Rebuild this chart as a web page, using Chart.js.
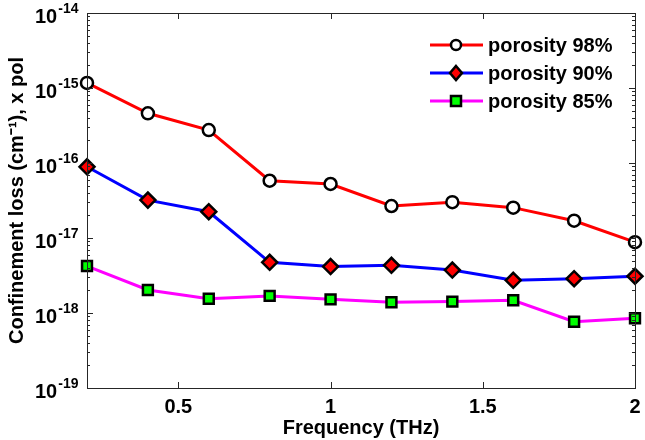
<!DOCTYPE html>
<html>
<head>
<meta charset="utf-8">
<script src="https://cdn.jsdelivr.net/npm/chart.js@4/dist/chart.umd.min.js"></script>
<style>
  html, body { margin: 0; padding: 0; background: #fff; }
  #wrap { width: 645px; height: 440px; }
</style>
</head>
<body>
<div id="wrap"><canvas id="c" width="645" height="440"></canvas></div>
<script>
// ---- data ----
const FREQ = [0.2, 0.4, 0.6, 0.8, 1.0, 1.2, 1.4, 1.6, 1.8, 2.0];
const POR98 = [1.17e-15, 4.6e-16, 2.75e-16, 5.8e-17, 5.25e-17, 2.67e-17, 3.0e-17, 2.54e-17, 1.7e-17, 8.8e-18];
const POR90 = [8.9e-17, 3.2e-17, 2.24e-17, 4.74e-18, 4.16e-18, 4.33e-18, 3.74e-18, 2.73e-18, 2.87e-18, 3.09e-18];
const POR85 = [4.23e-18, 2.03e-18, 1.55e-18, 1.69e-18, 1.52e-18, 1.39e-18, 1.42e-18, 1.48e-18, 7.66e-19, 8.5e-19];
const X_TICKS = [0.5, 1, 1.5, 2];
const Y_EXP = [-19, -18, -17, -16, -15, -14];
const LABELS = ['porosity 98%', 'porosity 90%', 'porosity 85%'];

const FONT = '"Liberation Sans", Arial, sans-serif';

const pts = (arr) => FREQ.map((f, i) => ({ x: f, y: arr[i] }));

// legend marker painter (same look as the plotted points)
function marker(ctx, kind, x, y) {
  ctx.save();
  ctx.lineWidth = 2.5;
  ctx.strokeStyle = '#000';
  ctx.beginPath();
  if (kind === 'circle') {
    ctx.fillStyle = '#fff';
    ctx.arc(x, y, 5, 0, Math.PI * 2);
  } else if (kind === 'diamond') {
    ctx.fillStyle = '#ff0000';
    ctx.moveTo(x, y - 7); ctx.lineTo(x + 6, y); ctx.lineTo(x, y + 7); ctx.lineTo(x - 6, y); ctx.closePath();
  } else {
    ctx.fillStyle = '#00ff00';
    ctx.rect(x - 5, y - 5, 10, 10);
  }
  ctx.fill(); ctx.stroke();
  ctx.restore();
}

const frame = {
  id: 'frame',
  afterDraw(chart) {
    const { ctx, chartArea: a, scales: { x, y } } = chart;
    ctx.save();
    ctx.strokeStyle = '#262626';
    ctx.lineWidth = 1;
    ctx.strokeRect(a.left + 0.5, a.top + 0.5, a.right - a.left, a.bottom - a.top);
    ctx.beginPath();
    // inward x ticks, bottom and top
    X_TICKS.forEach((v) => {
      const px = Math.round(x.getPixelForValue(v)) + 0.5;
      ctx.moveTo(px, a.bottom); ctx.lineTo(px, a.bottom - 6);
      ctx.moveTo(px, a.top); ctx.lineTo(px, a.top + 6);
    });
    // inward y ticks, major + minor, left and right
    for (let e = -19; e < -14; e++) {
      for (let m = 1; m < 10; m++) {
        const py = Math.round(y.getPixelForValue(m * Math.pow(10, e))) + 0.5;
        const len = m === 1 ? 6 : 3;
        ctx.moveTo(a.left, py); ctx.lineTo(a.left + len, py);
        ctx.moveTo(a.right, py); ctx.lineTo(a.right - len, py);
      }
    }
    ctx.stroke();

    // y tick labels 10^e
    ctx.fillStyle = '#000';
    ctx.textBaseline = 'middle';
    ctx.textAlign = 'left';
    Y_EXP.forEach((e) => {
      const py = y.getPixelForValue(Math.pow(10, e));
      ctx.font = 'bold 20px ' + FONT;
      ctx.fillText('10', 35, py + 4);
      const w = ctx.measureText('10').width;
      ctx.font = 'bold 14px ' + FONT;
      ctx.fillText('-' + String(-e), 35 + w + 1, py - 4);
    });

    // legend
    const kinds = ['circle', 'diamond', 'square'];
    const cols = ['#ff0000', '#0000ff', '#ff00ff'];
    LABELS.forEach((lab, i) => {
      const ly = 45 + i * 28;
      ctx.strokeStyle = cols[i];
      ctx.lineWidth = 3;
      ctx.beginPath(); ctx.moveTo(430, ly); ctx.lineTo(483, ly); ctx.stroke();
      marker(ctx, kinds[i], 456, ly);
      ctx.fillStyle = '#000';
      ctx.font = 'bold 20px ' + FONT;
      ctx.textAlign = 'left';
      ctx.fillText(lab, 488, ly + 1);
    });
    ctx.restore();
  }
};

const common = { borderWidth: 3, pointBorderWidth: 2.5, pointBorderColor: '#000', clip: false, tension: 0 };

new Chart(document.getElementById('c'), {
  type: 'line',
  data: {
    datasets: [
      Object.assign({ label: LABELS[0], data: pts(POR98), borderColor: '#ff0000',
        pointStyle: 'circle', pointRadius: 6, pointBackgroundColor: '#fff' }, common),
      Object.assign({ label: LABELS[1], data: pts(POR90), borderColor: '#0000ff',
        pointStyle: 'rectRot', pointRadius: 7.5, pointBackgroundColor: '#ff0000' }, common),
      Object.assign({ label: LABELS[2], data: pts(POR85), borderColor: '#ff00ff',
        pointStyle: 'rect', pointRadius: 7, pointBackgroundColor: '#00ff00' }, common)
    ]
  },
  options: {
    responsive: false,
    animation: false,
    events: [],
    layout: { padding: { top: 13, right: 10, left: 0, bottom: 0 } },
    plugins: { legend: { display: false }, tooltip: { enabled: false } },
    scales: {
      x: {
        type: 'linear', min: 0.2, max: 2,
        afterBuildTicks: (s) => { s.ticks = X_TICKS.map((v) => ({ value: v })); },
        afterFit: (s) => { s.height = 52; s.paddingLeft = 0; s.paddingRight = 0; },
        grid: { display: false, drawTicks: false },
        border: { display: false },
        ticks: { color: '#000', padding: 7, font: { family: FONT, size: 20, weight: 'bold' },
          callback: (v) => String(v) },
        title: { display: true, text: 'Frequency (THz)', color: '#000', padding: { top: 0, bottom: 0 },
          font: { family: FONT, size: 20, weight: 'bold' } }
      },
      y: {
        type: 'logarithmic', min: 1e-19, max: 1e-14,
        afterBuildTicks: (s) => { s.ticks = Y_EXP.map((e) => ({ value: Math.pow(10, e) })); },
        afterFit: (s) => { s.width = 87; s.paddingTop = 0; s.paddingBottom = 0; },
        grid: { display: false, drawTicks: false },
        border: { display: false },
        ticks: { callback: () => '' },
        title: { display: true, text: 'Confinement loss (cm⁻¹), x pol', color: '#000', padding: { top: 5, bottom: 0 },
          font: { family: FONT, size: 20, weight: 'bold' } }
      }
    }
  },
  plugins: [frame]
});
</script>
</body>
</html>
